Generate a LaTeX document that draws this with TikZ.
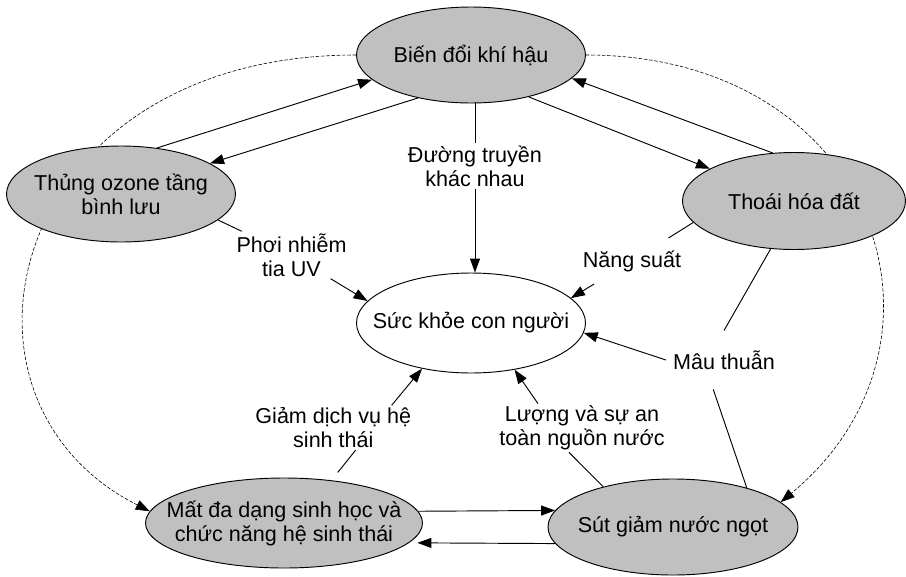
\documentclass[tikz,border=0pt]{standalone}
\usepackage{fontspec}
\setmainfont{Liberation Sans}
\usepackage{xcolor}
\usetikzlibrary{shapes.geometric,arrows.meta,backgrounds}
\definecolor{blobgray}{RGB}{192,192,192}

\begin{document}
\begin{tikzpicture}[font=\fontsize{18.4pt}{20.5pt}\selectfont,line width=0.8pt,
 blob/.style={ellipse,draw,fill=blobgray,inner sep=0pt},
 lbl/.style={align=center,inner sep=1.5pt},
 ar/.style={-{Triangle[length=4.2mm,width=3mm]}},
 dsh/.style={line width=0.5pt,dash pattern=on 3pt off 1.5pt}]
\useasboundingbox (0,0) rectangle (27.18,-17.28);
\node[blob,minimum width=6.87cm,minimum height=2.88cm,label=center:Biến đổi khí hậu] (cc) at (14.13,-1.65) {};
\node[blob,minimum width=6.87cm,minimum height=2.88cm,
 label={[align=center]center:Thủng ozone tầng\\bình lưu}] (oz) at (3.63,-5.82) {};
\node[blob,minimum width=6.69cm,minimum height=2.91cm,label=center:Thoái hóa đất] (ld) at (23.82,-6.03) {};
\node[blob,fill=white,minimum width=6.87cm,minimum height=3cm,label=center:Sức khỏe con người] (hh) at (14.13,-9.69) {};
\node[blob,minimum width=8.31cm,minimum height=2.7cm,
 label={[align=center]center:Mất đa dạng sinh học và\\chức năng hệ sinh thái}] (bd) at (8.52,-15.69) {};
\node[blob,minimum width=7.5cm,minimum height=2.88cm,label=center:Sút giảm nước ngọt] (fw) at (20.19,-15.81) {};

\node[lbl] (dv) at (14.25,-4.98) {Đường truyền\\khác nhau};
\node[lbl] (uv) at (8.745,-7.65) {Phơi nhiễm\\tia UV};
\node[lbl,minimum height=1.35cm] (ns) at (18.96,-7.83) {Năng suất};
\node[lbl,inner xsep=2mm,minimum height=1.74cm] (mt) at (21.72,-10.8) {Mâu thuẫn};
\node[lbl] (wq) at (17.46,-12.84) {Lượng và sự an\\toàn nguồn nước};
\node[lbl] (es) at (10.0,-12.83) {Giảm dịch vụ hệ\\sinh thái};

\draw[ar] (oz.52) -- (cc.194); \draw[ar] (cc.219) -- (oz.19);
\draw[ar] (cc.324) -- (ld.159); \draw[ar] (ld.114) -- (cc.347);
\draw (cc.south -| dv) -- (dv); \draw[ar] (dv) -- (hh.north -| dv);
\draw (oz.345) -- (uv); \draw[ar] (uv) -- (hh.168);
\draw (ld.192) -- (ns); \draw[ar] (ns) -- (hh.14);
\draw (ld.244) -- (mt.north); \draw (fw.28) -- (mt.250); \draw[ar] (mt.west) -- (hh.355);
\draw (fw.150) -- (wq.242); \draw[ar] (wq.151) -- (hh.313);
\draw[shorten <=3mm] (bd.42) -- (es.-45); \draw[ar] (es.21) -- (hh.223);
\draw[ar] (bd.5) -- (fw.172); \draw[ar,shorten >=2.5mm] (fw.188) -- (bd.-9);

% outer loop, kept under the ellipses
\begin{scope}[on background layer]
\draw[dsh,ar] (cc.west) .. controls +(-10.5,0) and +(-6.66,3.36) .. (bd.175);
\draw[dsh,ar] (cc.east) .. controls +(8.7,0) and +(5.78,4.8) .. (fw.13);
\end{scope}
\end{tikzpicture}
\end{document}
